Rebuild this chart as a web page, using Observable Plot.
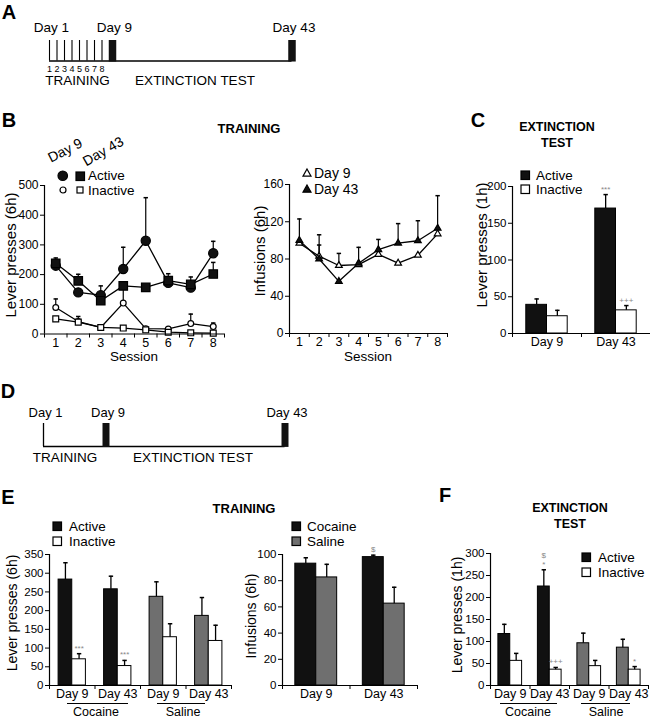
<!DOCTYPE html>
<html><head><meta charset="utf-8">
<script src="https://cdn.jsdelivr.net/npm/d3@7"></script>
<script src="https://cdn.jsdelivr.net/npm/@observablehq/plot@0.6"></script>
<style>
html,body{margin:0;padding:0;background:#fff;}
#root{position:relative;width:650px;height:719px;overflow:hidden;font-family:"Liberation Sans",Arial,Helvetica,sans-serif;color:#000;background:#fff;}
.lbl{position:absolute;white-space:nowrap;line-height:1;}
.sym{position:absolute;overflow:visible;}
.uline{position:absolute;height:0;border-top:1.3px solid #000;}
</style></head><body><div id="root"></div>
<script>
// ---------- DATA ----------
// Schematics (A, D)
const trainingSessions = [1, 2, 3, 4, 5, 6, 7, 8];
const testDays = [9, 43];
const schematicDays = [1, 9, 43];
const schematicDayLabels = ["Day 1", "Day 9", "Day 43"];

// Panel B (training, per session)
const sessions = [1, 2, 3, 4, 5, 6, 7, 8];
const leverActiveDay9 = [230, 140, 131, 219, 314, 172, 156, 272];
const leverActiveDay9Err = [8, 0, 31, 73, 145, 0, 0, 40];
const leverActiveDay43 = [238, 179, 112, 162, 157, 180, 167, 202];
const leverActiveDay43Err = [18, 22, 0, 0, 0, 23, 25, 39];
const leverInactiveDay9 = [89, 42, 22, 104, 18, 17, 35, 25];
const leverInactiveDay9Err = [29, 17, 0, 62, 0, 0, 32, 12];
const leverInactiveDay43 = [51, 40, 22, 20, 14, 6, 4, 3];
const leverInactiveDay43Err = [0, 0, 0, 0, 0, 0, 0, 0];
const infusionsDay9 = [97, 83, 73, 74, 85, 75.5, 84, 107];
const infusionsDay9Err = [0, 12, 13, 0, 0, 0, 0, 0];
const infusionsDay43 = [100, 80, 56, 75.5, 90, 97, 99.6, 113];
const infusionsDay43Err = [23, 26, 0, 17, 11, 21, 21.5, 35];
const bLeverTicks = [0, 100, 200, 300, 400, 500];
const bInfusionTicks = [0, 40, 80, 120, 160];

// Panel C (extinction test)
const cDays = ["Day 9", "Day 43"];
const cActive = [39, 170];
const cActiveErr = [8, 19];
const cInactive = [23.5, 31.5];
const cInactiveErr = [8, 6.5];
const cActiveSig = ["", "***"];
const cInactiveSig = ["", "+++"];
const cTicks = [0, 50, 100, 150, 200];

// Panel E left (training lever presses)
const eDays = ["Day 9", "Day 43", "Day 9", "Day 43"];
const eDrugs = ["Cocaine", "Cocaine", "Saline", "Saline"];
const eActive = [283, 257, 237, 186];
const eActiveErr = [45, 35, 40, 49];
const eInactive = [70, 52, 129, 119];
const eInactiveErr = [15, 15, 36, 42];
const eInactiveSig = ["***", "***", "", ""];
const eTicks = [0, 50, 100, 150, 200, 250, 300, 350];

// Panel E right (infusions)
const infDays = ["Day 9", "Day 43"];
const infCocaine = [93, 98];
const infCocaineErr = [4.5, 1.5];
const infSaline = [82.5, 62.5];
const infSalineErr = [10, 12.5];
const infCocaineSig = ["", "$"];
const infTicks = [0, 20, 40, 60, 80, 100];

// Panel F (extinction test)
const fDays = ["Day 9", "Day 43", "Day 9", "Day 43"];
const fDrugs = ["Cocaine", "Cocaine", "Saline", "Saline"];
const fActive = [117, 225, 96, 86];
const fActiveErr = [22, 38, 23, 19];
const fInactive = [56, 36, 44, 36];
const fInactiveErr = [17, 5, 13, 7];
const fActiveSig = ["", "$\n*", "", ""];
const fInactiveSig = ["", "+++", "", "*"];
const fTicks = [0, 50, 100, 150, 200, 250, 300];

// ---------- HELPERS ----------
const root = document.getElementById("root");
const FONT = '"Liberation Sans", Arial, Helvetica, sans-serif';
const baseStyle = {fontFamily: FONT, fontSize: "12px", color: "black", background: "transparent", overflow: "visible"};
const BLACK = "#111", GREY = "#6f6f6f";

function label(text, x, y, o = {}) {
  const d = document.createElement("div");
  d.className = "lbl";
  d.textContent = text;
  d.style.left = x + "px"; d.style.top = y + "px";
  d.style.fontSize = (o.size ?? 13) + "px";
  if (o.bold) d.style.fontWeight = "bold";
  if (o.color) d.style.color = o.color;
  const tx = o.anchor === "start" ? "0" : "-50%";
  if (o.anchor === "start") d.style.transformOrigin = "0 50%";
  d.style.transform = `translate(${tx},-50%) rotate(${o.rot ?? 0}deg)`;
  root.append(d);
}
function symbol(kind, cx, cy, size, fill) {
  const ns = "http://www.w3.org/2000/svg";
  const s = size + 4, c = s / 2, h = size / 2;
  const svg = document.createElementNS(ns, "svg");
  svg.setAttribute("width", s); svg.setAttribute("height", s);
  svg.setAttribute("class", "sym");
  svg.style.left = (cx - c) + "px"; svg.style.top = (cy - c) + "px";
  let el;
  if (kind === "circle") {
    el = document.createElementNS(ns, "circle");
    el.setAttribute("cx", c); el.setAttribute("cy", c); el.setAttribute("r", h);
  } else if (kind === "square") {
    el = document.createElementNS(ns, "rect");
    el.setAttribute("x", c - h); el.setAttribute("y", c - h);
    el.setAttribute("width", size); el.setAttribute("height", size);
  } else {
    el = document.createElementNS(ns, "polygon");
    el.setAttribute("points", `${c},${c - h} ${c + h},${c + h * 0.8} ${c - h},${c + h * 0.8}`);
  }
  el.setAttribute("fill", fill); el.setAttribute("stroke", "#000"); el.setAttribute("stroke-width", 1.2);
  svg.append(el);
  root.append(svg);
}
function uline(x1, x2, y) {
  const d = document.createElement("div");
  d.className = "uline";
  d.style.left = x1 + "px"; d.style.top = y + "px"; d.style.width = (x2 - x1) + "px";
  root.append(d);
}
function place(box, frame, options) {
  const p = Plot.plot({
    width: box.w, height: box.h,
    marginLeft: frame.x0 - box.l, marginRight: box.l + box.w - frame.x1,
    marginTop: frame.yt - box.t, marginBottom: box.t + box.h - frame.yb,
    style: baseStyle,
    ...options
  });
  p.style.position = "absolute"; p.style.left = box.l + "px"; p.style.top = box.t + "px";
  root.append(p);
}
const cap = {draw(ctx, size) { const r = Math.sqrt(size / Math.PI); ctx.moveTo(-r, 0); ctx.lineTo(r, 0); }};

function lineSeries(vals, err, sym, r, fill) {
  const withErr = sessions.filter((d, i) => err[i] > 0);
  return {
    errs: [
      Plot.ruleX(withErr, {x: d => d, y1: d => vals[d - 1], y2: d => vals[d - 1] + err[d - 1], stroke: "black", strokeWidth: 1.2}),
      Plot.dot(withErr, {x: d => d, y: d => vals[d - 1] + err[d - 1], symbol: cap, r: 2.2, stroke: "black", strokeWidth: 1.5})
    ],
    line: Plot.line(sessions, {x: d => d, y: d => vals[d - 1], stroke: "black", strokeWidth: 1.3}),
    dot: Plot.dot(sessions, {x: d => d, y: d => vals[d - 1], symbol: sym, r, fill, stroke: "black", strokeWidth: 1.2})
  };
}
function barMarks(n, a, aErr, aSig, b, bErr, bSig, fillA, fillB, BW = 0.3) {
  const rows = [];
  for (let i = 0; i < n; i++) {
    rows.push({i, side: 0, v: a[i], e: aErr[i], s: aSig ? aSig[i] : "", f: fillA(i)});
    rows.push({i, side: 1, v: b[i], e: bErr[i], s: bSig ? bSig[i] : "", f: fillB(i)});
  }
  const x1 = d => d.i + 0.5 - BW + d.side * BW;
  const cx = d => x1(d) + BW / 2;
  const top = d => d.v + d.e;
  return [
    Plot.rect(rows, {x1, x2: d => x1(d) + BW, y1: 0, y2: d => d.v, fill: d => d.f, stroke: "black", strokeWidth: 1}),
    Plot.ruleX(rows.filter(d => d.e > 0), {x: cx, y1: d => d.v, y2: top, stroke: "black", strokeWidth: 1.3}),
    Plot.dot(rows.filter(d => d.e > 0), {x: cx, y: top, symbol: cap, r: 2.2, stroke: "black", strokeWidth: 1.5}),
    Plot.text(rows.filter(d => d.s), {x: cx, y: top, text: d => d.s, dy: -3, lineAnchor: "bottom", fontSize: 8, fill: "#888", lineHeight: 1.15})
  ];
}
function barAxes(n, yTicks, names, xMin = 0) {
  return [
    Plot.ruleX([xMin], {stroke: "black", strokeWidth: 1.2}),
    Plot.ruleY([0], {stroke: "black", strokeWidth: 1.2}),
    Plot.axisY({ticks: yTicks, tickSize: 4, tickPadding: 2, label: null, fontSize: 11.5}),
    Plot.axisX({ticks: d3.range(0, n + 1), tickSize: 4, tickFormat: () => "", label: null}),
    Plot.axisX({ticks: d3.range(0, n).map(i => i + 0.5), tickFormat: d => names[Math.floor(d)], tickSize: 0, tickPadding: 4, label: null, fontSize: 12.5})
  ];
}

// ---------- PANEL A ----------
// schematic (not to scale): piecewise day -> pixel mapping through a d3 scale used as Plot's scale transform
const timelineA = d3.scaleLinear().domain([1, 8, 9, 43]).range([49, 101.5, 112, 291.5]);
place({l: 0, t: 0, w: 330, h: 95}, {x0: 0, x1: 330, yt: 0, yb: 95}, {
  x: {transform: d => timelineA(d), domain: [0, 330], range: [0, 330], axis: null},
  y: {domain: [0, 1], range: [60.5, 40], axis: null},
  marks: [
    Plot.ruleX(trainingSessions, {x: d => d, y1: 0, y2: 1, stroke: "black", strokeWidth: 1.1}),
    Plot.ruleY([0], {x1: 1, x2: 43, stroke: "black", strokeWidth: 1.3}),
    Plot.ruleX(testDays, {x: d => d, y1: -0.05, y2: 1, stroke: BLACK, strokeWidth: 7.5}),
    Plot.text(trainingSessions, {x: d => d, y: 0, text: d => String(d), dy: 8, fontSize: 9}),
    Plot.text(schematicDays, {x: d => d, y: 1, text: (d, i) => schematicDayLabels[i], dy: -13, dx: 2, fontSize: 13.5})
  ]
});
label("A", 9, 12, {size: 20, bold: true});
label("TRAINING", 77.5, 81, {size: 13.5});
label("EXTINCTION TEST", 195, 81, {size: 13.5});

// ---------- PANEL B ----------
label("B", 9, 120, {size: 20, bold: true});
label("TRAINING", 249, 128, {size: 13, bold: true});
{
  const s = [
    lineSeries(leverActiveDay9, leverActiveDay9Err, "circle", 4.6, BLACK),
    lineSeries(leverActiveDay43, leverActiveDay43Err, "square", 4.8, BLACK),
    lineSeries(leverInactiveDay9, leverInactiveDay9Err, "circle", 2.9, "white"),
    lineSeries(leverInactiveDay43, leverInactiveDay43Err, "square", 3.3, "white")
  ];
  place({l: 0, t: 165, w: 240, h: 205}, {x0: 44, x1: 224, yt: 185, yb: 333.5}, {
    x: {domain: [0.5, 8.5]}, y: {domain: [0, 500]},
    marks: [
      ...s.flatMap(d => d.errs), ...s.map(d => d.line), ...s.map(d => d.dot),
      Plot.ruleX([0.5], {stroke: "black", strokeWidth: 1.2}),
      Plot.ruleY([0], {stroke: "black", strokeWidth: 1.2}),
      Plot.axisY({ticks: bLeverTicks, tickSize: 4, tickPadding: 2, label: null, fontSize: 12}),
      Plot.axisX({ticks: d3.range(0.5, 9, 1), tickSize: 4, tickFormat: () => "", label: null}),
      Plot.axisX({ticks: sessions, tickSize: 0, tickPadding: 4, label: null, fontSize: 12.5})
    ]
  });
}
label("Day 9", 65, 150, {size: 14, rot: -27});
label("Day 43", 103, 151, {size: 14, rot: -30});
symbol("circle", 63, 176, 9.5, BLACK);
symbol("square", 80, 176, 8.5, BLACK);
label("Active", 88, 176, {size: 13.5, anchor: "start"});
symbol("circle", 63, 190, 6, "white");
symbol("square", 80, 190, 6, "white");
label("Inactive", 88, 190.5, {size: 13.5, anchor: "start"});
label("Lever presses (6h)", 10, 255, {size: 15, rot: -90});
label("Session", 134, 357, {size: 13.5});
{
  const s = [
    lineSeries(infusionsDay9, infusionsDay9Err, "triangle", 2.5, "white"),
    lineSeries(infusionsDay43, infusionsDay43Err, "triangle", 2.5, BLACK)
  ];
  place({l: 240, t: 165, w: 220, h: 205}, {x0: 289, x1: 447, yt: 184, yb: 333}, {
    x: {domain: [0.5, 8.5]}, y: {domain: [0, 160]},
    marks: [
      ...s.flatMap(d => d.errs), ...s.map(d => d.line), ...s.map(d => d.dot),
      Plot.ruleX([0.5], {stroke: "black", strokeWidth: 1.2}),
      Plot.ruleY([0], {stroke: "black", strokeWidth: 1.2}),
      Plot.axisY({ticks: bInfusionTicks, tickSize: 4, tickPadding: 2, label: null, fontSize: 12}),
      Plot.axisX({ticks: d3.range(0.5, 9, 1), tickSize: 4, tickFormat: () => "", label: null}),
      Plot.axisX({ticks: sessions, tickSize: 0, tickPadding: 4, label: null, fontSize: 12.5})
    ]
  });
}
symbol("triangle", 307, 173, 8, "white");
label("Day 9", 314, 173, {size: 14, anchor: "start"});
symbol("triangle", 307, 189, 8, BLACK);
label("Day 43", 314, 189, {size: 14, anchor: "start"});
label("Infusions (6h)", 259, 251, {size: 15, rot: -90});
label("Session", 368, 357, {size: 13.5});

// ---------- PANEL C ----------
label("C", 478, 120, {size: 20, bold: true});
label("EXTINCTION", 557, 127, {size: 12.5, bold: true});
label("TEST", 557, 143, {size: 12.5, bold: true});
place({l: 470, t: 170, w: 180, h: 200}, {x0: 512, x1: 650, yt: 186, yb: 333}, {
  x: {domain: [0, 2]}, y: {domain: [0, 200]}, color: {type: "identity"},
  marks: [
    ...barMarks(2, cActive, cActiveErr, cActiveSig, cInactive, cInactiveErr, cInactiveSig, () => BLACK, () => "white"),
    ...barAxes(2, cTicks, cDays)
  ]
});
symbol("square", 525, 175, 8.5, BLACK);
label("Active", 536, 175.5, {size: 13.5, anchor: "start"});
symbol("square", 525, 189, 8.5, "white");
label("Inactive", 536, 189.5, {size: 13.5, anchor: "start"});
label("Lever presses (1h)", 481, 245, {size: 15, rot: -90});

// ---------- PANEL D ----------
const timelineD = d3.scaleLinear().domain([1, 9, 43]).range([43, 105.5, 284.5]);
place({l: 0, t: 380, w: 330, h: 80}, {x0: 0, x1: 330, yt: 380, yb: 460}, {
  x: {transform: d => timelineD(d), domain: [0, 330], range: [0, 330], axis: null},
  y: {domain: [0, 1], range: [66, 43], axis: null},
  marks: [
    Plot.ruleX([1], {y1: 0, y2: 1, stroke: "black", strokeWidth: 1.3}),
    Plot.ruleY([0], {x1: 1, x2: 43, stroke: "black", strokeWidth: 1.3}),
    Plot.ruleX(testDays, {x: d => d, y1: -0.04, y2: 1, stroke: BLACK, strokeWidth: 7}),
    Plot.text(schematicDays, {x: d => d, y: 1, text: (d, i) => schematicDayLabels[i], dy: -11, dx: 2, fontSize: 13})
  ]
});
label("D", 8, 391, {size: 20, bold: true});
label("TRAINING", 65, 458, {size: 13.5});
label("EXTINCTION TEST", 193, 458, {size: 13.5});

// ---------- PANEL E ----------
label("E", 8, 497, {size: 20, bold: true});
label("TRAINING", 244, 508, {size: 13, bold: true});
place({l: 0, t: 545, w: 240, h: 170}, {x0: 49, x1: 231, yt: 554, yb: 685}, {
  x: {domain: [0, 4]}, y: {domain: [0, 350]}, color: {type: "identity"},
  marks: [
    ...barMarks(4, eActive, eActiveErr, null, eInactive, eInactiveErr, eInactiveSig,
      i => eDrugs[i] === "Saline" ? GREY : BLACK, () => "white"),
    ...barAxes(4, eTicks, eDays)
  ]
});
symbol("square", 57.5, 526, 8.5, BLACK);
label("Active", 69, 526.5, {size: 13.5, anchor: "start"});
symbol("square", 57.5, 541, 8.5, "white");
label("Inactive", 69, 541.5, {size: 13.5, anchor: "start"});
label("Lever presses (6h)", 12, 613, {size: 14, rot: -90});
uline(67, 128, 703); label(eDrugs[0], 96, 711.5, {size: 12.5});
uline(157, 205, 703); label(eDrugs[2], 183, 711.5, {size: 12.5});

place({l: 240, t: 545, w: 200, h: 170}, {x0: 282, x1: 417, yt: 554, yb: 685}, {
  x: {domain: [0, 2]}, y: {domain: [0, 100]}, color: {type: "identity"},
  marks: [
    ...barMarks(2, infCocaine, infCocaineErr, infCocaineSig, infSaline, infSalineErr, null, () => BLACK, () => GREY, 0.31),
    ...barAxes(2, infTicks, infDays)
  ]
});
symbol("square", 296, 526, 8.5, BLACK);
label("Cocaine", 307, 526.5, {size: 13.5, anchor: "start"});
symbol("square", 296, 541, 8.5, GREY);
label("Saline", 307, 541.5, {size: 13.5, anchor: "start"});
label("Infusions (6h)", 251, 616, {size: 14, rot: -90});

// ---------- PANEL F ----------
label("F", 445, 495, {size: 20, bold: true});
label("EXTINCTION", 570, 508, {size: 12.5, bold: true});
label("TEST", 570, 524, {size: 12.5, bold: true});
place({l: 440, t: 545, w: 210, h: 170}, {x0: 490, x1: 648, yt: 553, yb: 685}, {
  x: {domain: [0, 4]}, y: {domain: [0, 300]}, color: {type: "identity"},
  marks: [
    ...barMarks(4, fActive, fActiveErr, fActiveSig, fInactive, fInactiveErr, fInactiveSig,
      i => fDrugs[i] === "Saline" ? GREY : BLACK, () => "white"),
    ...barAxes(4, fTicks, fDays)
  ]
});
symbol("square", 586, 557, 8.5, BLACK);
label("Active", 598, 557.5, {size: 13.5, anchor: "start"});
symbol("square", 586, 572, 8.5, "white");
label("Inactive", 598, 572.5, {size: 13.5, anchor: "start"});
label("Lever presses (1h)", 457, 615, {size: 14, rot: -90});
uline(500, 557, 703); label(fDrugs[0], 528, 711.5, {size: 12.5});
uline(581, 630, 703); label(fDrugs[2], 606, 711.5, {size: 12.5});
</script></body></html>
